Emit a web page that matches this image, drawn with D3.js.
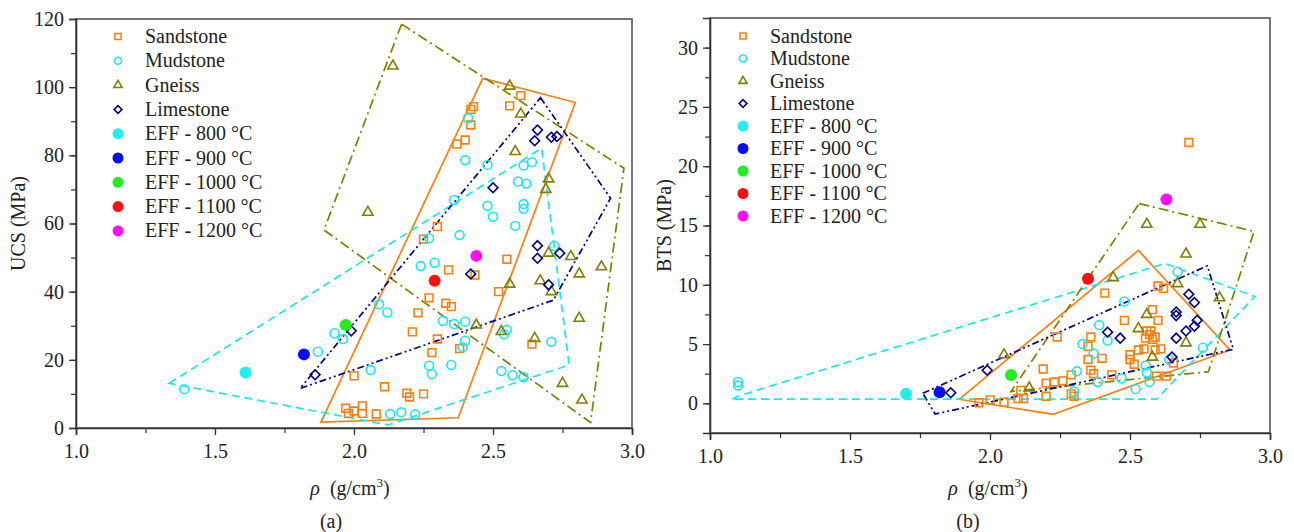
<!DOCTYPE html>
<html>
<head>
<meta charset="utf-8">
<script src="https://cdn.jsdelivr.net/npm/d3@7"></script>
<style>
  body { margin: 0; background: #fff; }
</style>
</head>
<body>
<div id="chart"></div>
<script>
// series names and legend entries
var seriesNames = ["Sandstone", "Mudstone", "Gneiss", "Limestone"];
var effNames = ["EFF - 800 \u00B0C", "EFF - 900 \u00B0C", "EFF - 1000 \u00B0C", "EFF - 1100 \u00B0C", "EFF - 1200 \u00B0C"];
var xTicks = [1.0, 1.5, 2.0, 2.5, 3.0];
var ucsTicks = [0, 20, 40, 60, 80, 100, 120];
var btsTicks = [0, 5, 10, 15, 20, 25, 30];

// (a) UCS vs density
var ucsSandstone = [[2.60,97.5],[2.56,94.5],[2.43,94.3],[2.42,93.5],[2.42,88.9],[2.40,84.5],[2.37,83.3],
  [2.30,59.1],[2.25,55.4],[2.55,49.5],[2.34,46.4],[2.435,44.9],[2.52,40.0],[2.27,38.2],[2.33,36.6],[2.35,35.6],
  [2.23,33.8],[2.21,28.2],[2.30,26.1],[2.28,22.1],[2.38,23.3],[2.64,24.6],[2.00,15.3],[2.11,12.1],[2.19,10.2],
  [2.20,9.1],[2.25,10.0],[1.97,5.8],[1.98,4.3],[2.00,5.0],[2.03,6.5],[2.03,4.3],[2.08,4.1]];
var ucsMudstone = [[2.41,90.9],[2.40,78.6],[2.48,77.2],[2.36,66.9],[2.61,77.0],[2.64,78.0],[2.59,72.3],[2.62,71.7],
  [2.48,65.2],[2.50,62.0],[2.61,65.7],[2.61,64.3],[2.58,59.3],[2.38,56.6],[2.27,55.7],[2.72,53.4],[2.24,47.5],
  [2.29,48.5],[2.09,36.3],[2.12,33.9],[2.32,31.4],[2.36,30.5],[2.40,31.2],[2.55,28.8],[2.54,27.5],[2.40,25.6],
  [2.39,23.7],[2.27,18.3],[2.28,15.8],[2.35,18.5],[2.06,17.0],[1.93,27.8],[1.96,26.1],[1.87,22.4],[2.71,25.3],
  [2.53,16.7],[2.57,15.5],[2.61,14.9],[2.13,4.1],[2.17,4.6],[2.22,4.0],[1.39,11.4]];
var ucsGneiss = [[2.14,106.2],[2.56,100.3],[2.60,92.1],[2.58,81.1],[2.05,63.3],[2.70,73.1],[2.69,70.0],[2.70,51.3],
  [2.78,50.3],[2.89,47.3],[2.81,45.2],[2.67,43.2],[2.71,40.0],[2.56,42.2],[2.81,32.2],[2.44,30.2],[2.53,28.3],
  [2.65,26.3],[2.75,13.1],[2.82,8.2]];
var ucsLimestone = [[2.66,87.4],[2.65,84.3],[2.71,85.3],[2.73,85.5],[2.50,70.5],[2.66,53.5],[2.66,49.8],[2.74,51.3],
  [2.70,42.0],[2.42,45.2],[1.99,28.5],[1.86,15.6]];
var ucsEff = [[1.61,16.3],[1.82,21.6],[1.97,30.2],[2.29,43.2],[2.44,50.5]];
var ucsHullSandstone = [[2.463,102.6],[2.796,95.5],[2.375,3.0],[1.881,1.7]];
var ucsHullMudstone = [[1.335,13.1],[2.675,82.1],[2.774,18.5],[2.123,0.9]];
var ucsHullGneiss = [[2.171,118.5],[2.971,76.2],[2.851,1.6],[1.892,58.1]];
var ucsHullLimestone = [[2.671,96.9],[2.923,67.4],[2.717,37.5],[1.806,11.6]];

// (b) BTS vs density
var btsSandstone = [[2.71,22.0],[2.41,9.3],[2.60,9.9],[2.62,9.7],[2.24,5.6],[2.58,7.9],[2.48,7.0],[2.60,7.0],
  [2.56,6.1],[2.575,6.1],[2.57,5.8],[2.59,5.6],[2.555,5.5],[2.58,5.4],[2.36,5.6],[2.35,4.8],[2.55,4.6],[2.53,4.5],
  [2.59,4.5],[2.61,4.6],[2.40,3.8],[2.50,4.1],[2.50,3.7],[2.35,3.7],[2.515,3.3],[2.655,3.4],[2.19,2.9],[2.36,2.8],
  [2.37,2.5],[2.29,2.4],[2.26,1.9],[2.435,2.4],[2.595,2.3],[2.63,2.3],[2.20,1.7],[2.23,1.8],[2.29,0.8],[2.30,0.6],
  [2.20,0.6],[2.11,1.1],[2.12,0.4],[2.10,0.4],[1.96,0.05],[2.00,0.3],[2.05,0.1]];
var btsMudstone = [[1.10,1.5],[1.10,1.8],[2.67,11.1],[2.48,8.6],[2.39,6.6],[2.42,5.3],[2.33,5.0],[2.37,4.2],[2.31,2.7],
  [2.385,1.8],[2.47,2.1],[2.30,1.0],[2.556,3.2],[2.56,2.6],[2.52,1.2],[2.57,1.8],[2.64,3.7],[2.76,4.7]];
var btsGneiss = [[2.56,15.1],[2.75,15.1],[2.70,12.6],[2.44,10.6],[2.67,10.1],[2.82,8.9],[2.56,7.5],[2.53,6.3],
  [2.70,5.1],[2.58,3.9],[2.05,4.1],[2.14,1.3]];
var btsLimestone = [[2.71,9.2],[2.73,8.5],[2.665,7.7],[2.665,7.4],[2.42,6.0],[2.465,5.5],[2.74,7.0],[2.73,6.5],
  [2.70,6.1],[2.665,5.5],[2.65,3.9],[1.99,2.8],[1.86,0.9]];
var btsEff = [[1.70,0.8],[1.82,0.93],[2.075,2.4],[2.35,10.5],[2.63,17.2]];
var btsHullSandstone = [[1.890,0.34],[2.530,12.9],[2.857,4.5],[2.226,-0.93]];
var btsHullMudstone = [[1.08,0.35],[1.10,0.6],[2.625,11.8],[2.946,9.0],[2.595,0.36]];
var btsHullGneiss = [[2.533,16.85],[2.943,14.5],[2.780,2.67],[2.075,1.0]];
var btsHullLimestone = [[1.760,0.85],[2.776,11.6],[2.869,4.56],[1.804,-0.9]];

var colors = ["#ff7f0e", "#18e8f0", "#808000", "#00008b"];
var effColors = ["#22eeee", "#0a0aff", "#22ee22", "#ff1010", "#ff10ff"];
var dashes = [null, "8,5", "10,4,2,4", "7,3,2,3,2,3"];
var serif = "'Liberation Serif', 'DejaVu Serif', serif";

var svg = d3.select("#chart").append("svg")
    .attr("width", 1294)
    .attr("height", 532)
    .style("font-family", serif);

svg.append("rect").attr("width", 1294).attr("height", 532).attr("fill", "#fff");

function shapePath(i, big) {
  var k = big ? 1 : 0.62;
  if (i === 0) return d3.symbol(d3.symbolSquare, 60 * k)();
  if (i === 1) return d3.symbol(d3.symbolCircle, 62 * k)();
  if (i === 2) return d3.symbol(d3.symbolTriangle, 46 * k)();
  return d3.symbol(d3.symbolSquare, 48 * k)();
}

function styleAxis(a) {
  a.attr("font-family", null).attr("font-size", null);
  a.select(".domain").attr("stroke-width", 1.6).attr("stroke", "#333");
  a.selectAll("text").style("font-size", "20px").style("font-family", serif).attr("fill", "#222");
}

function drawPanel(p) {
  var x = d3.scaleLinear().domain([1, 3]).range([p.left, p.right]);
  var y = d3.scaleLinear().domain(p.yDomain).range([p.bottom, p.top]);
  var g = svg.append("g");

  // frame
  g.append("rect")
    .attr("x", p.left).attr("y", p.top)
    .attr("width", p.right - p.left).attr("height", p.bottom - p.top)
    .attr("fill", "none").attr("stroke", "#555").attr("stroke-width", 1.6);

  // axes with minor ticks
  var xMinor = d3.range(1, 3.001, 0.25);
  g.append("g").attr("transform", "translate(0," + p.bottom + ")")
    .call(d3.axisBottom(x).tickValues(xMinor).tickSize(5).tickFormat(""))
    .call(function (a) { a.select(".domain").remove(); });
  g.append("g").attr("transform", "translate(0," + p.bottom + ")")
    .call(d3.axisBottom(x).tickValues(xTicks).tickSize(7).tickPadding(9).tickFormat(d3.format(".1f")))
    .call(styleAxis);

  var yMinor = d3.range(p.yTicks[0], p.yTicks[p.yTicks.length - 1] + 0.001, (p.yTicks[1] - p.yTicks[0]) / 2);
  g.append("g").attr("transform", "translate(" + p.left + ",0)")
    .call(d3.axisLeft(y).tickValues(yMinor).tickSize(5).tickFormat(""))
    .call(function (a) { a.select(".domain").remove(); });
  g.append("g").attr("transform", "translate(" + p.left + ",0)")
    .call(d3.axisLeft(y).tickValues(p.yTicks).tickSize(7).tickPadding(5))
    .call(styleAxis);
  g.selectAll(".tick line").attr("stroke", "#333").attr("stroke-width", 1.2);

  // envelopes
  var line = d3.line().x(function (d) { return x(d[0]); }).y(function (d) { return y(d[1]); })
    .curve(d3.curveLinearClosed);
  p.hulls.forEach(function (h, i) {
    g.append("path").attr("d", line(h))
      .attr("fill", "none").attr("stroke", colors[i]).attr("stroke-width", 1.7)
      .attr("stroke-dasharray", dashes[i]);
  });

  // points
  p.series.forEach(function (s, i) {
    g.selectAll(".pt" + i).data(s).enter().append("path")
      .attr("d", shapePath(i, true))
      .attr("transform", function (d) {
        return "translate(" + x(d[0]) + "," + y(d[1]) + ")" + (i === 3 ? " rotate(45)" : "");
      })
      .attr("fill", "none").attr("stroke", colors[i]).attr("stroke-width", 1.6);
  });
  g.selectAll(".eff").data(p.eff).enter().append("circle")
    .attr("cx", function (d) { return x(d[0]); })
    .attr("cy", function (d) { return y(d[1]); })
    .attr("r", 6)
    .attr("fill", function (d, i) { return effColors[i]; });

  // legend
  var lg = g.append("g");
  seriesNames.concat(effNames).forEach(function (name, i) {
    var ly = p.legY + i * p.legStep;
    if (i < 4) {
      lg.append("path").attr("d", shapePath(i, false))
        .attr("transform", "translate(" + p.legX + "," + ly + ")" + (i === 3 ? " rotate(45)" : ""))
        .attr("fill", "none").attr("stroke", colors[i]).attr("stroke-width", 1.6);
    } else {
      lg.append("circle").attr("cx", p.legX).attr("cy", ly).attr("r", 5.5)
        .attr("fill", effColors[i - 4]);
    }
    lg.append("text").attr("x", p.legX + 27).attr("y", ly + 6.5)
      .style("font-size", "20px").attr("fill", "#222").text(name);
  });

  // titles
  g.append("text")
    .attr("transform", "translate(" + p.yLabX + "," + ((p.top + p.bottom) / 2) + ") rotate(-90)")
    .attr("text-anchor", "middle").attr("fill", "#222").style("font-size", "20px").text(p.yLabel);

  var xl = g.append("text").attr("x", p.xLabX).attr("y", 495).attr("fill", "#222")
    .attr("text-anchor", "middle").style("font-size", "20px");
  xl.append("tspan").style("font-style", "italic").text("\u03C1");
  xl.append("tspan").text("\u2002(g/cm");
  xl.append("tspan").attr("dy", -8).style("font-size", "13px").text("3");
  xl.append("tspan").attr("dy", 8).text(")");

  g.append("text").attr("x", p.capX).attr("y", 528).attr("fill", "#222")
    .attr("text-anchor", "middle").style("font-size", "20px").text(p.caption);
}

drawPanel({
  left: 76, right: 632, top: 19, bottom: 428,
  yDomain: [0, 120], yTicks: ucsTicks,
  series: [ucsSandstone, ucsMudstone, ucsGneiss, ucsLimestone],
  hulls: [ucsHullSandstone, ucsHullMudstone, ucsHullGneiss, ucsHullLimestone],
  eff: ucsEff,
  legX: 118, legY: 36.5, legStep: 24.3,
  yLabel: "UCS  (MPa)", yLabX: 25, xLabX: 350, capX: 331, caption: "(a)"
});

drawPanel({
  left: 710, right: 1270, top: 18, bottom: 433,
  yDomain: [-2.5, 32.5], yTicks: btsTicks,
  series: [btsSandstone, btsMudstone, btsGneiss, btsLimestone],
  hulls: [btsHullSandstone, btsHullMudstone, btsHullGneiss, btsHullLimestone],
  eff: btsEff,
  legX: 743, legY: 36, legStep: 22.5,
  yLabel: "BTS  (MPa)", yLabX: 671, xLabX: 988, capX: 968, caption: "(b)"
});
</script>
</body>
</html>
